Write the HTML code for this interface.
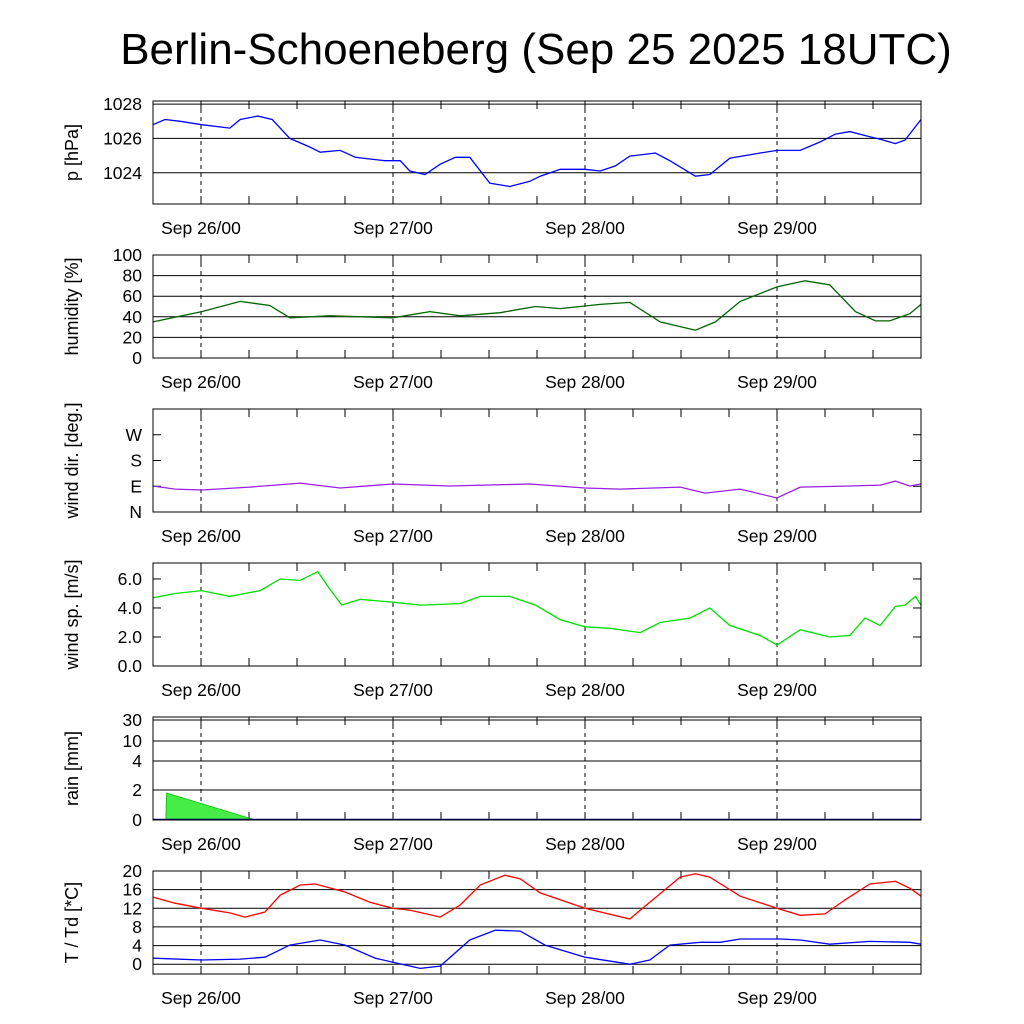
<!DOCTYPE html>
<html><head><meta charset="utf-8"><style>
html,body{margin:0;padding:0;background:#fff}
svg{display:block;font-family:"Liberation Sans",sans-serif}
</style></head><body>
<svg id="chart" width="1024" height="1024" viewBox="0 0 1024 1024">
<text x="536" y="64" text-anchor="middle" font-size="44">Berlin-Schoeneberg (Sep 25 2025 18UTC)</text>
</svg>
<script>
// x axis: hours since Sep 25 18UTC
const dayLabels = ["Sep 26/00","Sep 27/00","Sep 28/00","Sep 29/00"];
const dayHours = [6,30,54,78];

const pH = [0,1.5,3.4,6.1,9.6,10.9,13.1,14.9,17.1,19.6,20.9,23.4,25.3,27.1,29,30.9,32.1,34,35.9,37.8,39.6,42.1,44.6,47.1,48.4,50.9,54,55.9,57.8,59.6,62.8,64.6,67.8,69.6,72.1,75.9,78,80.9,83.4,85.3,87.1,89.6,90.9,92.8,94,96];
const pV = [1026.8,1027.1,1027.0,1026.8,1026.6,1027.1,1027.3,1027.1,1026.0,1025.5,1025.2,1025.3,1024.9,1024.8,1024.7,1024.7,1024.1,1023.9,1024.5,1024.9,1024.9,1023.4,1023.2,1023.5,1023.8,1024.2,1024.2,1024.1,1024.4,1024.97,1025.15,1024.7,1023.8,1023.9,1024.85,1025.15,1025.3,1025.3,1025.8,1026.25,1026.4,1026.1,1025.95,1025.7,1025.9,1027.1];

const rhH = [0,6.1,10.9,14.6,17.1,22.1,30,34.6,38.4,43.4,47.8,50.9,55.9,59.6,63.4,67.8,70.3,73.4,78,81.5,84.6,87.8,90.3,92.1,94.6,96];
const rhV = [35,45,55,51,39,41,39,45,41,44,50,48,52,54,35,27,35,55,69,75,71,45,36,36,43,52];

const wdH = [0,2.75,6.1,12.1,18.4,23.4,30,37.1,47.1,54,58.4,65.9,69,73.4,78,80.9,87.1,90.9,92.8,94.6,96];
const wdV = [91,80,77,87,101,84,98,91,98,84,80,87,66,80,49,87,91,94,108,91,98];

const wsH = [0,2.75,6.1,9.6,13.4,15.9,18.4,20.6,22.1,23.6,25.9,30,33.4,38.4,40.9,44.6,47.8,50.9,54,57.1,60.9,63.4,67.1,69.6,72.1,75.9,78,80.9,84.6,87.1,89,90.9,92.8,94,95.3,96];
const wsV = [4.7,5.0,5.2,4.8,5.2,6.0,5.9,6.5,5.3,4.2,4.6,4.4,4.2,4.3,4.8,4.8,4.2,3.2,2.7,2.6,2.3,3.0,3.3,4.0,2.8,2.1,1.45,2.5,2.0,2.1,3.3,2.8,4.1,4.2,4.8,4.2];

const rainH = [0,1.6,1.7,12.8,96];
const rainV = [0,0,1.8,0,0];

const tH = [0,2.75,6.1,9.6,11.5,14,15.9,18.4,20.3,24,27.1,30,32.1,35.9,38.4,40.9,44,45.9,48.4,54,59.6,62.1,65.9,67.8,69.6,73.4,78,80.9,84,86.5,89.6,92.8,94.6,96];
const tV = [14.4,13.1,12.0,11.0,10.1,11.2,14.8,17.0,17.2,15.5,13.3,12.0,11.6,10.1,12.7,17.0,19.1,18.3,15.3,12.0,9.7,13.3,18.7,19.4,18.7,14.6,12.0,10.5,10.8,13.8,17.2,17.8,16.3,14.6];
const tdH = [0,6.1,10.9,14,17.1,20.9,24,27.8,30,33.4,35.9,39.6,42.8,45.9,49,54,59.6,62.1,64.6,68.4,70.9,73.4,78.4,80.9,84.6,89.6,94.6,96];
const tdV = [1.3,0.9,1.1,1.5,4.1,5.2,4.1,1.3,0.4,-0.9,-0.4,5.2,7.3,7.1,4.1,1.5,0,0.9,4.1,4.7,4.7,5.4,5.4,5.2,4.3,4.9,4.7,4.3];

const NS="http://www.w3.org/2000/svg";
const svg=document.getElementById('chart');
const X0=153,X1=921;
const xs=h=>X0+(h/96)*(X1-X0);
function el(t,a,p){const e=document.createElementNS(NS,t);for(const k in a)e.setAttribute(k,a[k]);(p||svg).appendChild(e);return e;}

const panels=[
 {top:101,bot:204,name:"pressure",title:"p [hPa]",min:1022.18,max:1028.18,ticks:[1024,1026,1028],labels:["1024","1026","1028"],series:[[pH,pV,"#0000ff"]]},
 {top:255,bot:358,name:"humidity",title:"humidity [%]",min:0,max:100,ticks:[0,20,40,60,80,100],labels:["0","20","40","60","80","100"],series:[[rhH,rhV,"#006400"]]},
 {top:409,bot:512,name:"wind-direction",title:"wind dir. [deg.]",min:0,max:360,ticks:[0,90,180,270],labels:["N","E","S","W"],grid:false,series:[[wdH,wdV,"#9a1ee6"]]},
 {top:563,bot:666,name:"wind-speed",title:"wind sp. [m/s]",min:0,max:7.1,ticks:[0,2,4,6],labels:["0.0","2.0","4.0","6.0"],grid:false,series:[[wsH,wsV,"#00e000"]]},
 {top:717,bot:820,name:"rain",title:"rain [mm]",rain:true,ticks:[0,2,4,10,30],labels:["0","2","4","10","30"],series:[]},
 {top:871,bot:974,name:"temperature",title:"T / Td [*C]",min:-2.1,max:20,ticks:[0,4,8,12,16,20],labels:["0","4","8","12","16","20"],series:[[tH,tV,"#ff0000"],[tdH,tdV,"#0000ff"]]}
];
const rainKeys=[0,2,4,10,30,32];
const rainPix=[820,790,761,741,720,717];

panels.forEach(p=>{
 let ys;
 if(p.rain){ys=v=>{for(let i=0;i<rainKeys.length-1;i++){if(v<=rainKeys[i+1]){const f=(v-rainKeys[i])/(rainKeys[i+1]-rainKeys[i]);return rainPix[i]+f*(rainPix[i+1]-rainPix[i]);}}return rainPix[rainPix.length-1];};}
 else ys=v=>p.bot-(v-p.min)/(p.max-p.min)*(p.bot-p.top);
 const g=el('g',{});
 
 
 p.ticks.forEach((t,i)=>{
  const y=ys(t);
  if(p.grid!==false) el('line',{x1:X0,x2:X1,y1:y,y2:y,stroke:'#000','stroke-width':1},g);
  else {el('line',{x1:X0,x2:X0+8,y1:y,y2:y,stroke:'#000'},g);el('line',{x1:X1-8,x2:X1,y1:y,y2:y,stroke:'#000'},g);}
  const tx=el('text',{x:X0-11,y:y+6,'text-anchor':'end','font-size':17.5},g);
  tx.textContent=p.labels[i];
  
  
 });
 dayHours.forEach((h,i)=>{
  const x=xs(h);
  el('line',{x1:x,x2:x,y1:p.top,y2:p.bot,stroke:'#000','stroke-dasharray':'4,4'},g);
  const tx=el('text',{x:x,y:p.bot+30,'text-anchor':'middle','font-size':17.5},g);
  tx.textContent=dayLabels[i];
  
  
 });
 for(let h=0;h<=96;h+=6){const x=xs(h);
  el('line',{x1:x,x2:x,y1:p.bot,y2:p.bot-8,stroke:'#000'},g);
  el('line',{x1:x,x2:x,y1:p.top,y2:p.top+8,stroke:'#000'},g);}
 p.series.forEach(s=>{
  const d=s[0].map((h,i)=>(i?'L':'M')+xs(h).toFixed(1)+','+ys(s[1][i]).toFixed(1)).join('');
  const path=el('path',{d:d,fill:'none',stroke:s[2],'stroke-width':1.3},g);
  
  
 });
 if(p.rain){
  let d='M'+xs(rainH[0])+','+ys(0);
  rainH.forEach((h,i)=>{d+='L'+xs(h).toFixed(1)+','+ys(rainV[i]).toFixed(1);});
  d+='L'+xs(96)+','+ys(0)+'Z';
  const a=el('path',{d:d,fill:'#44ee44',stroke:'#00c000','stroke-width':0.8},g);
  
  
  el('line',{x1:X0,x2:X1,y1:ys(0)-0.5,y2:ys(0)-0.5,stroke:'#000080','stroke-width':1.5},g);
 }
 el('rect',{x:X0,y:p.top,width:X1-X0,height:p.bot-p.top,fill:'none',stroke:'#000'},g);
 const cy=(p.top+p.bot)/2;
 const yt=el('text',{x:0,y:0,'text-anchor':'middle','font-size':18,transform:`translate(78,${cy}) rotate(-90)`},g);
 yt.textContent=p.title;
 
 
});
</script>
</body></html>
